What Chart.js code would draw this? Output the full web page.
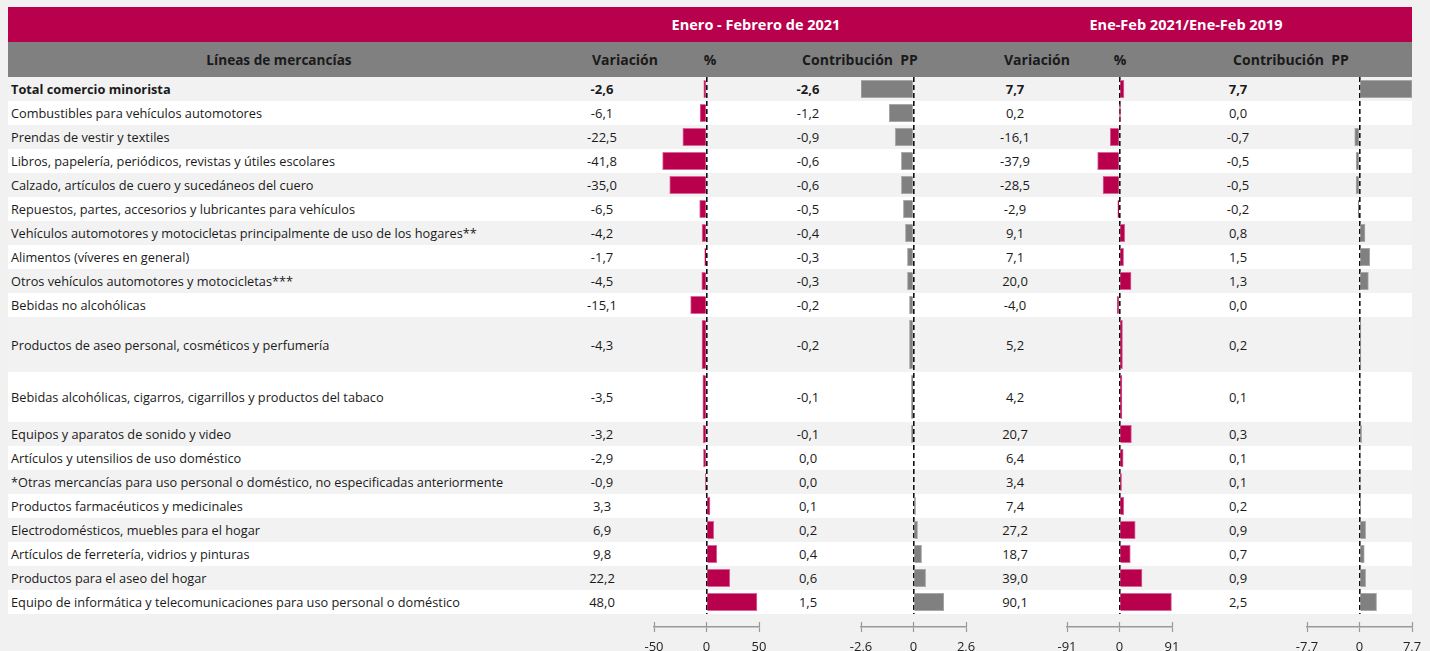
<!DOCTYPE html>
<html>
<head>
<meta charset="utf-8">
<script src="https://cdn.jsdelivr.net/npm/chart.js@4.4.1/dist/chart.umd.min.js"></script>
<style>
  body { margin: 0; background: #f1f1f1; font-family: "Open Sans", sans-serif; color: #1a1a1a; }
  #wrap { position: relative; width: 1430px; height: 651px; overflow: hidden; }
  .band { position: absolute; left: 8px; width: 1404px; }
  .txt { position: absolute; white-space: nowrap; font-size: 12.75px; line-height: 18px; }
  .mid { transform: translate(-50%, -50%); }
  .lbl { transform: translateY(-50%); }
  .hdr { font-weight: bold; font-size: 14px; }
  .grp { font-size: 14.5px; }
  .panel { position: absolute; line-height: 0; }
  .panel canvas { display: block; }
</style>
</head>
<body>
<div id="wrap"></div>
<script>
// Líneas de mercancías, comercio minorista
const categories = [
  'Total comercio minorista',
  'Combustibles para vehículos automotores',
  'Prendas de vestir y textiles',
  'Libros, papelería, periódicos, revistas y útiles escolares',
  'Calzado, artículos de cuero y sucedáneos del cuero',
  'Repuestos, partes, accesorios y lubricantes para vehículos',
  'Vehículos automotores y motocicletas principalmente de uso de los hogares**',
  'Alimentos (víveres en general)',
  'Otros vehículos automotores y motocicletas***',
  'Bebidas no alcohólicas',
  'Productos de aseo personal, cosméticos y perfumería',
  'Bebidas alcohólicas, cigarros, cigarrillos y productos del tabaco',
  'Equipos y aparatos de sonido y video',
  'Artículos y utensilios de uso doméstico',
  '*Otras mercancías para uso personal o doméstico, no especificadas anteriormente',
  'Productos farmacéuticos y medicinales',
  'Electrodomésticos, muebles para el hogar',
  'Artículos de ferretería, vidrios y pinturas',
  'Productos para el aseo del hogar',
  'Equipo de informática y telecomunicaciones para uso personal o doméstico'
];

// Enero - Febrero de 2021
const variacion2021 = [-2.6, -6.1, -22.5, -41.8, -35.0, -6.5, -4.2, -1.7, -4.5, -15.1,
  -4.3, -3.5, -3.2, -2.9, -0.9, 3.3, 6.9, 9.8, 22.2, 48.0];
const contribucion2021 = [-2.6, -1.2, -0.9, -0.6, -0.6, -0.5, -0.4, -0.3, -0.3, -0.2,
  -0.2, -0.1, -0.1, 0.0, 0.0, 0.1, 0.2, 0.4, 0.6, 1.5];

// Ene-Feb 2021 / Ene-Feb 2019
const variacionVs2019 = [7.7, 0.2, -16.1, -37.9, -28.5, -2.9, 9.1, 7.1, 20.0, -4.0,
  5.2, 4.2, 20.7, 6.4, 3.4, 7.4, 27.2, 18.7, 39.0, 90.1];
const contribucionVs2019 = [7.7, 0.0, -0.7, -0.5, -0.5, -0.2, 0.8, 1.5, 1.3, 0.0,
  0.2, 0.1, 0.3, 0.1, 0.1, 0.2, 0.9, 0.7, 0.9, 2.5];

// axis ends (-v, 0, v)
const axisLimits = [50, 2.6, 91, 7.7];

const groupTitles = ['Enero - Febrero de 2021', 'Ene-Feb 2021/Ene-Feb 2019'];
const columnTitles = ['Líneas de mercancías', 'Variación', '%', 'Contribución\u00a0 PP', 'Variación', '%', 'Contribución\u00a0 PP'];

// ---- layout ----
const ROW_TOP = 77;
const ROW_H = 24;
const tallRows = { 10: 55, 11: 50 };
const rowHeights = categories.map((_, i) => tallRows[i] || ROW_H);
const rowsTotal = rowHeights.reduce((a, b) => a + b, 0);
const rowCenters = [];
let acc = 0;
rowHeights.forEach(h => { rowCenters.push(acc + h / 2); acc += h; });

const MAGENTA = '#b8004c';
const panels = [
  { values: variacion2021, limit: axisLimits[0], left: 654, textX: 602, fill: MAGENTA, edge: '#d8669a' },
  { values: contribucion2021, limit: axisLimits[1], left: 860.5, textX: 808, fill: '#808080', edge: '#a8a8a8' },
  { values: variacionVs2019, limit: axisLimits[2], left: 1067, textX: 1015, fill: MAGENTA, edge: '#d8669a' },
  { values: contribucionVs2019, limit: axisLimits[3], left: 1307, textX: 1238, fill: '#808080', edge: '#a8a8a8' }
];
const PANEL_W = 105;
const PAD = 30;

const wrap = document.getElementById('wrap');

function addDiv(cls, style, text) {
  const d = document.createElement('div');
  d.className = cls;
  Object.assign(d.style, style);
  if (text !== undefined) d.textContent = text;
  wrap.appendChild(d);
  return d;
}

const fmt = v => (Math.round(v * 10) / 10).toFixed(1).replace('.', ',');
const fmtTick = v => String(v).replace('.', ',');

// header bands
addDiv('band', { top: '7px', height: '35px', background: MAGENTA });
addDiv('band', { top: '42px', height: '35px', background: '#808080' });
const groupX = [756, 1186];
groupTitles.forEach((t, i) => {
  addDiv('txt mid hdr grp', { left: groupX[i] + 'px', top: '24.5px', color: '#fff' }, t);
});
const colX = [279, 625, 710, 860, 1037, 1120, 1291];
columnTitles.forEach((t, i) => {
  addDiv('txt mid hdr', { left: colX[i] + 'px', top: '59.5px', color: '#1a1a1a', fontSize: i === 0 ? '13.6px' : '14px' }, t);
});

// rows
let y = ROW_TOP;
categories.forEach((c, i) => {
  const h = rowHeights[i];
  addDiv('band', { top: y + 'px', height: h + 'px', background: i % 2 ? '#ffffff' : '#f2f2f2' });
  const bold = i === 0 ? 'bold' : 'normal';
  const cy = y + h / 2;
  addDiv('txt lbl', { left: '11px', top: cy + 'px', fontWeight: bold }, c);
  panels.forEach(p => {
    addDiv('txt mid', { left: p.textX + 'px', top: cy + 'px', fontWeight: bold, fontSize: '13px' }, fmt(p.values[i]));
  });
  y += h;
});

// bar panels
const CANVAS_TOP = ROW_TOP;
const CANVAS_H = 651 - ROW_TOP;

panels.forEach(p => {
  const box = addDiv('panel', { left: (p.left - PAD) + 'px', top: CANVAS_TOP + 'px' });
  const cv = document.createElement('canvas');
  cv.width = PANEL_W + PAD * 2;
  cv.height = CANVAS_H;
  cv.style.width = cv.width + 'px';
  cv.style.height = cv.height + 'px';
  box.appendChild(cv);

  // one dataset per row height so the tall rows get tall bars
  const byHeight = {};
  p.values.forEach((v, i) => {
    const h = rowHeights[i];
    (byHeight[h] = byHeight[h] || []).push({ x: v, y: rowCenters[i] });
  });
  const datasets = Object.keys(byHeight).map(h => ({
    data: byHeight[h],
    barThickness: h - 6.5,
    grouped: false,
    xAxisID: 'x',
    yAxisID: 'y',
    backgroundColor: p.fill,
    borderColor: p.edge,
    borderWidth: 1
  }));

  const lim = p.limit;
  const base = {
    type: 'linear',
    axis: 'x',
    position: 'bottom',
    min: -lim,
    max: lim,
    afterBuildTicks: s => { s.ticks = [{ value: -lim }, { value: 0 }, { value: lim }]; }
  };

  new Chart(cv, {
    type: 'bar',
    data: { datasets },
    options: {
      indexAxis: 'y',
      responsive: false,
      animation: false,
      layout: { padding: { left: PAD, right: PAD, top: 0, bottom: 0 } },
      plugins: { legend: { display: false }, tooltip: { enabled: false } },
      scales: {
        y: {
          type: 'linear', min: 0, max: rowsTotal, reverse: true,
          offset: false, grace: 0, display: false,
          grid: { offset: false }
        },
        // bars + dashed zero line
        x: Object.assign({}, base, {
          weight: 0,
          ticks: { display: false },
          grid: {
            color: ctx => (ctx.tick && ctx.tick.value === 0 ? '#111' : 'rgba(0,0,0,0)'),
            lineWidth: 1.6,
            drawTicks: false
          },
          border: { display: false, dash: [5, 3] },
          afterFit: s => { s.height = 8; }
        }),
        // upper half of the tick marks
        xt: Object.assign({}, base, {
          weight: 1,
          ticks: { display: false },
          grid: { drawOnChartArea: false, tickLength: 5, tickColor: '#999', tickWidth: 1.2 },
          border: { display: false },
          afterFit: s => { s.height = 5; }
        }),
        // axis line, lower tick marks and labels
        xl: Object.assign({}, base, {
          weight: 2,
          ticks: {
            color: '#222',
            font: { family: 'Open Sans', size: 13 },
            padding: 7,
            maxRotation: 0,
            autoSkip: false,
            callback: v => fmtTick(v)
          },
          grid: { drawOnChartArea: false, tickLength: 5, tickColor: '#999', tickWidth: 1.2 },
          border: { display: true, color: '#999', width: 1.5 },
          afterFit: s => { s.height = 24; }
        })
      }
    }
  });
});
</script>
</body>
</html>
